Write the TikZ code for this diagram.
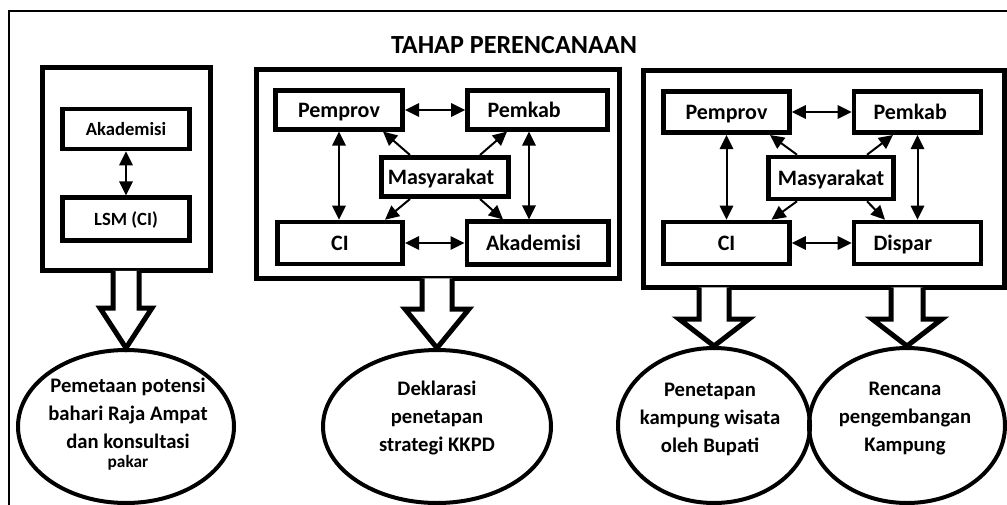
\documentclass[tikz,border=0pt]{standalone}
\usepackage{fontspec}
\setmainfont{Carlito}
\usetikzlibrary{arrows.meta,calc,shapes.geometric}

\tikzset{every picture/.style={line width=0.75pt}}
\tikzset{
  panel/.style={draw, line width=3.75pt, inner sep=0pt},
  box/.style={draw, line width=3.4pt, inner sep=0pt, text depth=0pt, minimum width=95pt, minimum height=31.5pt, font=\bfseries\fontsize{16.5}{20}\selectfont},
  smallbox/.style={box, font=\bfseries\fontsize{14}{16}\selectfont},
  oval/.style={draw, ellipse, line width=3pt, inner sep=0pt},
  ovaltext/.style={align=center, font=\bfseries\fontsize{15.5}{21}\selectfont},
  both/.style={{Triangle[length=10.5pt,width=10pt]}-{Triangle[length=10.5pt,width=10pt]}, line width=1.5pt},
  one/.style={-{Triangle[length=10.5pt,width=10pt]}, line width=1.5pt},
  hollow/.style={draw, fill=white, line width=3.75pt, line join=miter},
}
% #1 panel, #2 oval, #3 half stem, #4 half head, #5 head height
\newcommand{\hollowarrow}[5]{%
  \draw[hollow] ($(#1.south -| #2.north)+(-#3,-2.6)$) -- ($(#2.north)+(-#3,-#5)$) -- ($(#2.north)+(-#4,-#5)$) -- (#2.north)
    -- ($(#2.north)+(#4,-#5)$) -- ($(#2.north)+(#3,-#5)$) -- ($(#1.south -| #2.north)+(#3,-2.6)$);
}

\begin{document}
\begin{tikzpicture}[x=0.75pt,y=0.75pt,yscale=-1,xscale=1]
\useasboundingbox (0,0) rectangle (1007,504);
% outer frame
\draw[line width=1.5pt] (9,11) rectangle (1030,530);
% Title
\node[font=\bfseries\fontsize{19.6}{22}\selectfont] (title) at (514,45) {TAHAP PERENCANAAN};

% Panels
\node[panel, minimum width=126pt, minimum height=152.6pt] (pan1) at (126,169.25) {};
\node[panel, minimum width=271.9pt, minimum height=157.1pt] (pan2) at (437.75,173.75) {};
\node[panel, minimum width=270.4pt, minimum height=163.1pt] (pan3) at (824.25,178.75) {};

% Left panel
\node[smallbox, minimum height=30pt] (aka0) at (126,129) {Akademisi};
\node[smallbox, minimum height=31.9pt] (lsm0) at (126,219) {LSM (CI)};
\draw[both] (aka0) -- (lsm0);

% Middle panel
\node[box, minimum width=95.6pt, minimum height=28.9pt] (prov1) at (339,110) {Pemprov};
\node[box, minimum width=105pt, minimum height=28.9pt] (kab1) at (537.5,110) {\hspace*{-20pt}Pemkab};
\node[box, minimum height=29.6pt] (mas1) at (445,177) {\hspace*{-6pt}Masyarakat};
\node[box, minimum width=94.1pt] (ci1) at (340,243) {CI};
\node[box, minimum width=106.1pt, minimum height=31.9pt] (aka1) at (537.5,243) {\hspace*{-6pt}Akademisi};
\draw[both] (prov1) -- (kab1);
\draw[both] (ci1) -- (aka1);
\draw[both] (prov1.south) -- (prov1.south |- ci1.north);
\draw[both] ($(kab1.south)+(-8.5,0)$) -- ($(aka1.north)+(-8.5,0)$);
\draw[one] ($(mas1.north)+(-35,0)$) -- ($(prov1.south)+(44,0)$);
\draw[one] ($(mas1.north)+(35,0)$) -- ($(kab1.south)+(-30.5,0)$);
\draw[one] ($(mas1.south)+(-35,0)$) -- ($(ci1.north)+(45,0)$);
\draw[one] ($(mas1.south)+(35,0)$) -- ($(aka1.north)+(-34.5,0)$);

% Right panel
\node[box, minimum width=94.5pt, minimum height=31.1pt] (prov2) at (726.5,112) {Pemprov};
\node[box, minimum width=95.25pt, minimum height=31.1pt] (kab2) at (917.5,112) {\hspace*{-11pt}Pemkab};
\node[box, minimum width=94.1pt] (mas2) at (831,178) {Masyarakat};
\node[box, minimum width=94.5pt] (ci2) at (726.5,243) {CI};
\node[box, minimum width=95.25pt] (dis2) at (917.5,243) {\hspace*{-22pt}Dispar};
\draw[both] (prov2) -- (kab2);
\draw[both] (ci2) -- (dis2);
\draw[both] (prov2) -- (ci2);
\draw[both] (kab2) -- (dis2);
\draw[one] ($(mas2.north)+(-34,0)$) -- ($(prov2.south)+(43.5,0)$);
\draw[one] ($(mas2.north)+(36,0)$) -- ($(kab2.south)+(-24.5,0)$);
\draw[one] ($(mas2.south)+(-34,0)$) -- ($(ci2.north)+(45,0)$);
\draw[one] ($(mas2.south)+(36,0)$) -- ($(dis2.north)+(-32.5,0)$);

% Outcomes
\node[oval, minimum width=162pt, minimum height=114.75pt] (out1) at (126,426.5) {};
\node[oval, minimum width=171pt, minimum height=114.75pt] (out2) at (437,426.5) {};
\node[oval, minimum width=144pt, minimum height=116.25pt] (out3) at (714,425.5) {};
\node[oval, minimum width=147pt, minimum height=116.25pt] (out4) at (907,425.5) {};

\node[ovaltext] (txt1) at (128,424) {Pemetaan potensi\\bahari Raja Ampat\\dan konsultasi\\[-7pt]{\fontsize{13}{13}\selectfont pakar}};
\node[ovaltext] (txt2) at (437,418) {Deklarasi\\penetapan\\strategi KKPD};
\node[ovaltext] (txt3) at (710,419) {Penetapan\\kampung wisata\\oleh Bupati};
\node[ovaltext] (txt4) at (905,419) {Rencana\\pengembangan\\Kampung};

% Block arrows
\hollowarrow{pan1}{out1}{13}{26}{40}
\hollowarrow{pan2}{out2}{15}{32}{39}
\hollowarrow{pan3}{out3}{15}{35}{27}
\hollowarrow{pan3}{out4}{16}{35}{27}
\end{tikzpicture}
\end{document}
